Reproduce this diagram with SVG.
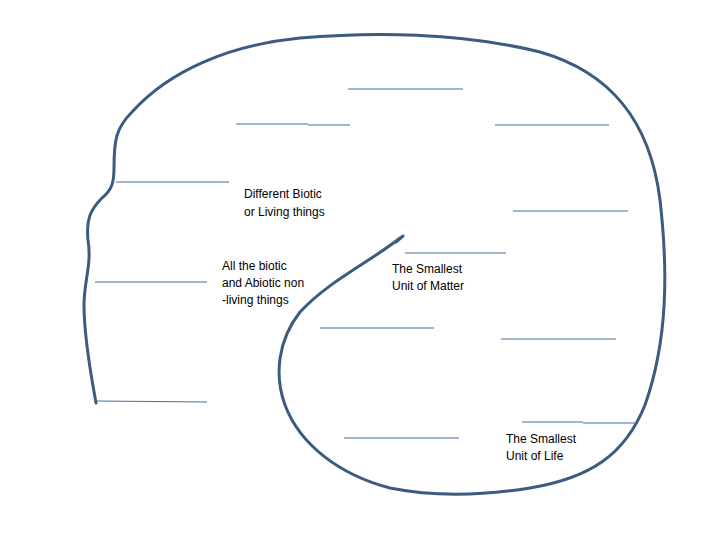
<svg xmlns="http://www.w3.org/2000/svg" width="720" height="540" viewBox="0 0 720 540">
<style>
.o{fill:none;stroke:#3d5b80;stroke-width:3;stroke-linecap:round;stroke-linejoin:round}
.l{stroke:#4a6e98;stroke-width:1.2}
text{font-family:"Liberation Sans",Arial,sans-serif;font-size:12px;fill:#000}
</style>
<rect width="720" height="540" fill="#fff"/>
<g id="outline">
<path class="o" d="M96,403 C92,380 84,340 84,305 C84,280 92,265 88,240 C86,220 90,210 102,198 C112,190 114,182 114,168 C114,140 116,128 132,112 C170,70 230,45 300,38 C370,32 460,32 540,52 C610,72 650,120 660,200 C668,270 668,340 645,405 C625,455 590,478 530,488 C480,496 430,496 390,488 C340,475 300,445 285,405 C274,375 278,340 300,312 C330,280 370,262 400,238"/>
<path class="o" d="M396,242 L403,236" stroke-width="4"/>
</g>
<g id="lines">
<line class="l" x1="348" y1="89" x2="463" y2="89"/>
<line class="l" x1="236" y1="124" x2="308" y2="124"/>
<line class="l" x1="308" y1="125" x2="350" y2="125"/>
<line class="l" x1="495" y1="125" x2="609" y2="125"/>
<line class="l" x1="116" y1="182" x2="229" y2="182"/>
<line class="l" x1="513" y1="211" x2="628" y2="211"/>
<line class="l" x1="405" y1="253" x2="506" y2="253"/>
<line class="l" x1="95" y1="282" x2="207" y2="282"/>
<line class="l" x1="320" y1="328" x2="434" y2="328"/>
<line class="l" x1="501" y1="339" x2="616" y2="339"/>
<line class="l" x1="97" y1="401" x2="207" y2="402"/>
<line class="l" x1="522" y1="422" x2="583" y2="422"/>
<line class="l" x1="583" y1="423" x2="636" y2="423"/>
<line class="l" x1="344" y1="438" x2="459" y2="438"/>
</g>
<g id="label-ecosystem">
<text x="244" y="198">Different Biotic</text>
<text x="244" y="216">or Living things</text>
</g>
<g id="label-biosphere">
<text x="222" y="270">All the biotic</text>
<text x="222" y="287">and Abiotic non</text>
<text x="222" y="304">-living things</text>
</g>
<g id="label-atom">
<text x="392" y="273">The Smallest</text>
<text x="392" y="290">Unit of Matter</text>
</g>
<g id="label-cell">
<text x="506" y="443">The Smallest</text>
<text x="506" y="460">Unit of Life</text>
</g>
</svg>
